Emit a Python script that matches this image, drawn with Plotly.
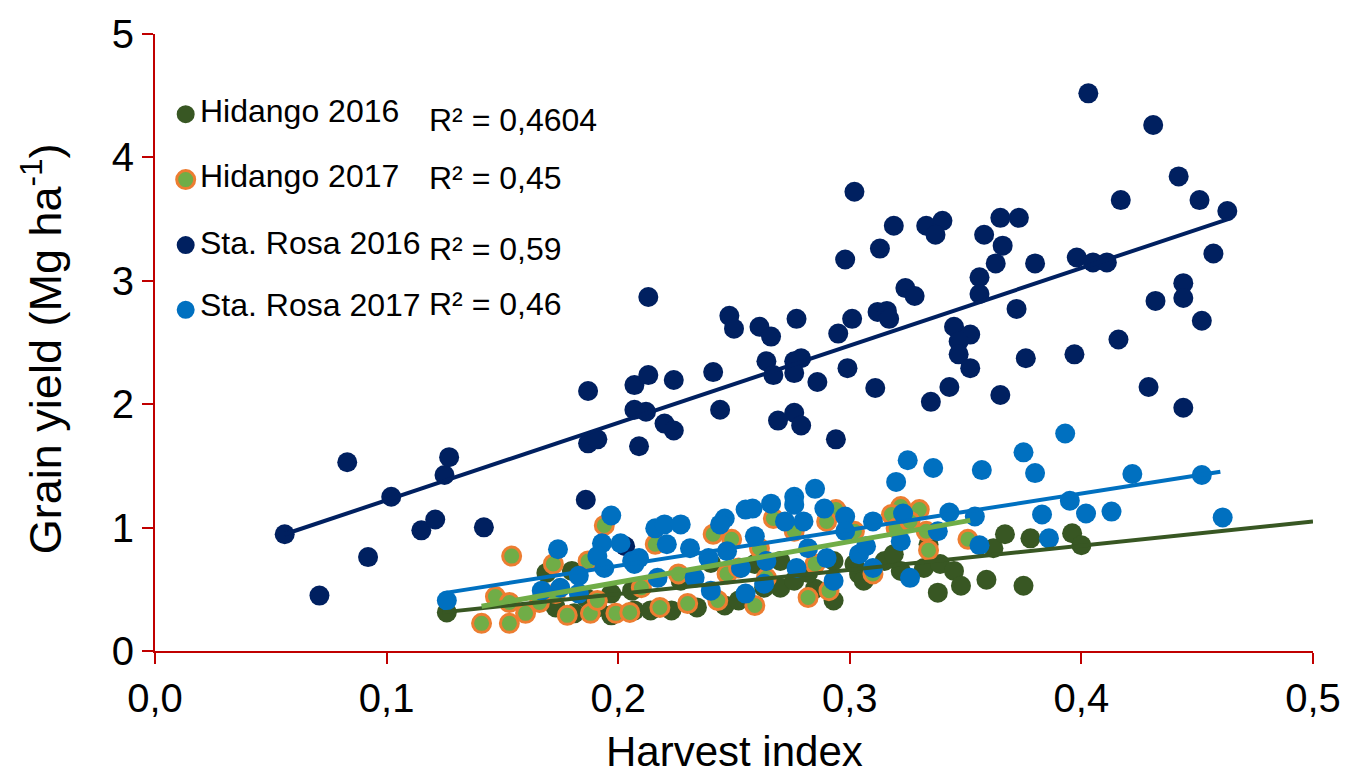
import plotly.graph_objects as go

# ---- data -----------------------------------------------------------------
series_names = ["Hidango 2016", "Hidango 2017", "Sta. Rosa 2016", "Sta. Rosa 2017"]
r2_labels = ["R² = 0,4604", "R² = 0,45", "R² = 0,59", "R² = 0,46"]

hid16_x = [0.126, 0.169, 0.180, 0.173, 0.197, 0.191, 0.197, 0.206, 0.186, 0.181,
           0.207, 0.214, 0.223, 0.234, 0.246, 0.252, 0.263, 0.270, 0.276, 0.285,
           0.293, 0.304, 0.302, 0.259, 0.240, 0.227, 0.270, 0.282, 0.293, 0.306,
           0.315, 0.319, 0.322, 0.332, 0.334, 0.339, 0.345, 0.338, 0.348, 0.359,
           0.362, 0.367, 0.375, 0.378, 0.396, 0.400]
hid16_y = [0.313, 0.633, 0.649, 0.353, 0.289, 0.353, 0.465, 0.489, 0.433, 0.305,
           0.329, 0.329, 0.329, 0.353, 0.369, 0.409, 0.513, 0.513, 0.569, 0.505,
           0.409, 0.625, 0.705, 0.705, 0.713, 0.569, 0.729, 0.633, 0.729, 0.569,
           0.729, 0.785, 0.649, 0.673, 0.865, 0.705, 0.649, 0.473, 0.529, 0.577,
           0.833, 0.946, 0.529, 0.913, 0.954, 0.857]

hid17_x = [0.154, 0.172, 0.194, 0.141, 0.153, 0.147, 0.153, 0.160, 0.178, 0.188,
           0.199, 0.205, 0.173, 0.191, 0.166, 0.187, 0.282, 0.291, 0.259, 0.243,
           0.230, 0.218, 0.210, 0.216, 0.241, 0.249, 0.267, 0.294, 0.290, 0.276,
           0.285, 0.261, 0.226, 0.247, 0.264, 0.302, 0.252, 0.322, 0.330, 0.318,
           0.333, 0.334, 0.351, 0.310, 0.320, 0.326]
hid17_y = [0.769, 0.705, 1.018, 0.224, 0.224, 0.441, 0.393, 0.305, 0.289, 0.305,
           0.305, 0.313, 0.465, 0.409, 0.393, 0.729, 0.433, 0.489, 0.369, 0.409,
           0.385, 0.353, 0.513, 0.865, 0.946, 0.905, 1.074, 1.146, 1.050, 0.970,
           0.705, 0.833, 0.625, 0.625, 0.593, 0.970, 0.673, 1.170, 1.146, 1.106,
           0.970, 0.817, 0.905, 0.625, 0.994, 1.050]

sr16_x = [0.056, 0.071, 0.083, 0.092, 0.102, 0.115, 0.121, 0.125, 0.127, 0.142,
          0.187, 0.186, 0.187, 0.191, 0.203, 0.213, 0.207, 0.213, 0.224, 0.241,
          0.207, 0.212, 0.209, 0.220, 0.224, 0.244, 0.248, 0.250, 0.261, 0.266,
          0.277, 0.264, 0.267, 0.276, 0.279, 0.276, 0.286, 0.269, 0.276, 0.279,
          0.294, 0.295, 0.299, 0.301, 0.298, 0.302, 0.403, 0.431, 0.442, 0.417,
          0.451, 0.463, 0.319, 0.333, 0.340, 0.337, 0.365, 0.373, 0.358, 0.366,
          0.363, 0.380, 0.313, 0.398, 0.405, 0.411, 0.457, 0.444, 0.444, 0.432,
          0.452, 0.356, 0.356, 0.372, 0.324, 0.328, 0.312, 0.316, 0.317, 0.345,
          0.352, 0.347, 0.347, 0.352, 0.376, 0.397, 0.416, 0.311, 0.343, 0.335,
          0.365, 0.429, 0.444]
sr16_y = [0.946, 0.449, 1.530, 0.761, 1.250, 0.978, 1.066, 1.426, 1.571, 1.002,
          2.107, 1.226, 1.683, 1.715, 0.849, 2.869, 2.155, 2.236, 2.196, 2.260,
          1.955, 1.939, 1.659, 1.843, 1.787, 1.955, 2.716, 2.612, 2.628, 2.548,
          2.692, 2.348, 2.236, 2.348, 2.372, 2.252, 2.180, 1.867, 1.931, 1.827,
          1.715, 2.572, 2.292, 2.692, 3.173, 3.722, 4.519, 4.263, 3.846, 3.654,
          3.654, 3.566, 3.446, 3.446, 3.486, 3.373, 3.510, 3.510, 3.373, 3.285,
          3.141, 3.141, 3.261, 3.189, 3.149, 3.149, 3.221, 2.981, 2.861, 2.837,
          2.676, 3.029, 2.893, 2.772, 2.941, 2.877, 2.748, 2.756, 2.692, 2.628,
          2.564, 2.508, 2.404, 2.292, 2.372, 2.404, 2.524, 2.131, 2.139, 2.019,
          2.075, 2.139, 1.971]

sr17_x = [0.126, 0.174, 0.197, 0.183, 0.193, 0.191, 0.201, 0.175, 0.167, 0.194,
          0.206, 0.183, 0.216, 0.220, 0.227, 0.246, 0.244, 0.255, 0.258, 0.266,
          0.276, 0.285, 0.276, 0.289, 0.298, 0.280, 0.272, 0.209, 0.221, 0.231,
          0.239, 0.247, 0.259, 0.264, 0.253, 0.217, 0.233, 0.240, 0.255, 0.263,
          0.277, 0.282, 0.290, 0.293, 0.304, 0.298, 0.207, 0.325, 0.336, 0.320,
          0.357, 0.375, 0.380, 0.393, 0.383, 0.395, 0.402, 0.343, 0.354, 0.323,
          0.310, 0.338, 0.322, 0.356, 0.386, 0.326, 0.307, 0.310, 0.422, 0.452,
          0.461, 0.413]
sr17_y = [0.409, 0.825, 1.098, 0.609, 0.873, 0.769, 0.873, 0.513, 0.489, 0.673,
          0.729, 0.465, 0.994, 1.026, 1.026, 1.074, 1.026, 1.146, 1.154, 1.194,
          1.250, 1.314, 1.186, 1.154, 1.090, 1.050, 1.050, 0.753, 0.865, 0.833,
          0.753, 0.809, 0.929, 0.729, 0.673, 0.593, 0.593, 0.489, 0.465, 0.545,
          0.673, 0.833, 0.753, 0.569, 0.785, 0.970, 0.705, 1.546, 1.483, 1.370,
          1.466, 1.610, 1.442, 1.763, 1.106, 1.218, 1.114, 1.122, 1.090, 1.114,
          1.050, 0.970, 0.889, 0.857, 0.913, 0.593, 0.849, 0.673, 1.434, 1.426,
          1.082, 1.130]

# linear trend lines: slope, intercept and x extent of each fitted line
trend_slope = [1.96, 3.30, 6.27, 2.93]
trend_intercept = [0.070, -0.103, 0.595, 0.104]
trend_x_start = [0.124, 0.141, 0.056, 0.126]
trend_x_end = [0.500, 0.352, 0.465, 0.460]

x_ticks = [0.0, 0.1, 0.2, 0.3, 0.4, 0.5]
y_ticks = [0, 1, 2, 3, 4, 5]

# ---- styling --------------------------------------------------------------
FONT = "Liberation Sans, Arial, sans-serif"
AXIS_RED = "#C00000"
DARK_GREEN = "#385723"
LIGHT_GREEN = "#70AD47"
ORANGE = "#ED7D31"
NAVY = "#002060"
BLUE = "#0070C0"

fill_colors = [DARK_GREEN, LIGHT_GREEN, NAVY, BLUE]
edge_colors = [DARK_GREEN, ORANGE, NAVY, BLUE]
edge_widths = [0, 3, 0, 0]
marker_sizes = [20, 18, 20, 20]
line_colors = [DARK_GREEN, LIGHT_GREEN, NAVY, BLUE]
line_widths = [4, 5, 4, 4]

xs = [hid16_x, hid17_x, sr16_x, sr17_x]
ys = [hid16_y, hid17_y, sr16_y, sr17_y]

fig = go.Figure()

for i, name in enumerate(series_names):
    fig.add_trace(go.Scatter(
        x=xs[i], y=ys[i], mode="markers", name=name, showlegend=False,
        marker=dict(size=marker_sizes[i], color=fill_colors[i],
                    line=dict(color=edge_colors[i], width=edge_widths[i])),
    ))

for i, name in enumerate(series_names):
    tx = [trend_x_start[i], trend_x_end[i]]
    ty = [trend_intercept[i] + trend_slope[i] * v for v in tx]
    fig.add_trace(go.Scatter(
        x=tx, y=ty, mode="lines", name=name + " trend", showlegend=False,
        line=dict(color=line_colors[i], width=line_widths[i]),
    ))

# hand-placed legend block with R² values
marker_rows_y = [0.870, 0.764, 0.658, 0.553]
legend_rows_y = [0.876, 0.770, 0.662, 0.561]
r2_rows_y = [0.860, 0.766, 0.651, 0.563]
shapes = []
annotations = []
for i, name in enumerate(series_names):
    shapes.append(dict(
        type="circle", xref="paper", yref="paper",
        xsizemode="pixel", ysizemode="pixel",
        xanchor=0.0265, yanchor=marker_rows_y[i],
        x0=-9, x1=9, y0=-9, y1=9,
        fillcolor=fill_colors[i],
        line=dict(color=edge_colors[i], width=3 if edge_widths[i] else 0),
    ))
    annotations.append(dict(
        text=name, xref="paper", yref="paper", x=0.0375, y=legend_rows_y[i],
        xanchor="left", yanchor="middle", showarrow=False,
        font=dict(family=FONT, size=32, color="#000000"),
    ))
    annotations.append(dict(
        text=r2_labels[i], xref="paper", yref="paper", x=0.235, y=r2_rows_y[i],
        xanchor="left", yanchor="middle", showarrow=False,
        font=dict(family=FONT, size=32, color="#000000"),
    ))

annotations.append(dict(
    text="Harvest index", xref="paper", yref="paper", x=0.5, y=-0.205,
    xanchor="center", yanchor="bottom", showarrow=False,
    font=dict(family=FONT, size=42, color="#000000"),
))
annotations.append(dict(
    text="Grain yield (Mg ha<sup>-1</sup>)", xref="paper", yref="paper",
    x=-0.098, y=0.49, xanchor="center", yanchor="middle", textangle=-90,
    showarrow=False, font=dict(family=FONT, size=45, color="#000000"),
))

axis_common = dict(
    showline=True, linecolor=AXIS_RED, linewidth=2,
    ticks="outside", ticklen=11, tickwidth=2, tickcolor=AXIS_RED,
    showgrid=False, zeroline=False,
    tickfont=dict(family=FONT, size=40, color="#000000"),
)

fig.update_layout(
    width=1353, height=782,
    margin=dict(l=155, r=29, t=22, b=131),
    paper_bgcolor="white", plot_bgcolor="white",
    separators=",.",
    showlegend=False,
    shapes=shapes, annotations=annotations,
    xaxis=dict(range=[0, 0.5], tickvals=x_ticks, tickformat=".1f", **axis_common),
    yaxis=dict(range=[0, 5], tickvals=y_ticks, tickformat="d", **axis_common),
)

fig.write_html("out.html")
